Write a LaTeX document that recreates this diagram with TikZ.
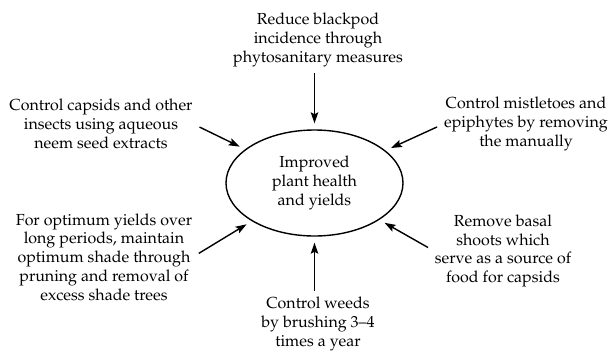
\documentclass[tikz,border=0pt]{standalone}
\usepackage[T1]{fontenc}
\usepackage{mathpazo}
\usetikzlibrary{arrows.meta,shapes.geometric}
\newcommand\XC{314.5}
\newcommand\XL{101}
\newcommand\XR{526}
\newcommand\XBL{104}
\newcommand\XBR{503}
\newcommand\YT{40}
\newcommand\YU{124}
\newcommand\YE{183}
\newcommand\YBL{257}
\newcommand\YBR{251}
\newcommand\YB{324}

\begin{document}
\begin{tikzpicture}
  [x=1pt, y=-1pt, line width=1.4pt,
   every node/.style = {font=\fontsize{16}{18.7}\selectfont},
   goal/.style = {
     draw, ellipse, inner sep=0pt, align=center,
     minimum width=177pt, minimum height=106pt
   },
   measure/.style = {
     align=center, inner sep=0pt
   },
   arrow/.style = {
     -{Stealth[length=11pt,width=7.5pt,inset=2pt]}, shorten >=6pt
   }]
  \useasboundingbox (0,0) rectangle (608,351);

  % Centre
  \node[goal] at (\XC, \YE) (goal) {Improved\\plant health\\and yields};

  % Measures round the centre
  \node[measure] at (318, \YT) (blackpod) {Reduce blackpod\\incidence through\\phytosanitary measures};
  \node[measure] at (\XL, \YU) (capsids) {Control capsids and other\\insects using aqueous\\neem seed extracts};
  \node[measure] at (\XR, \YU) (mistletoe) {Control mistletoes and\\epiphytes by removing\\the manually};
  \node[measure] at (\XBL, \YBL) (shade) {For optimum yields over\\long periods, maintain\\optimum shade through\\pruning and removal of\\excess shade trees};
  \node[measure] at (\XBR, \YBR) (shoots) {Remove basal\\shoots which\\serve as a source of\\food for capsids};
  \node[measure] at (318, \YB) (weeds) {Control weeds\\by brushing 3--4\\times a year};

  % Arrows into the centre
  \draw[arrow, shorten <=6pt] (blackpod.south -| goal) -- (goal);
  \draw[arrow, shorten <=7pt] (capsids.east) -- (goal);
  \draw[arrow, shorten <=7pt] (mistletoe.west) -- (goal);
  \draw[arrow, shorten <=7pt] (shade.east) -- (goal);
  \draw[arrow, shorten <=7pt] (shoots.west) -- (goal);
  \draw[arrow, shorten <=6pt] (weeds.north -| goal) -- (goal);

\end{tikzpicture}
\end{document}
